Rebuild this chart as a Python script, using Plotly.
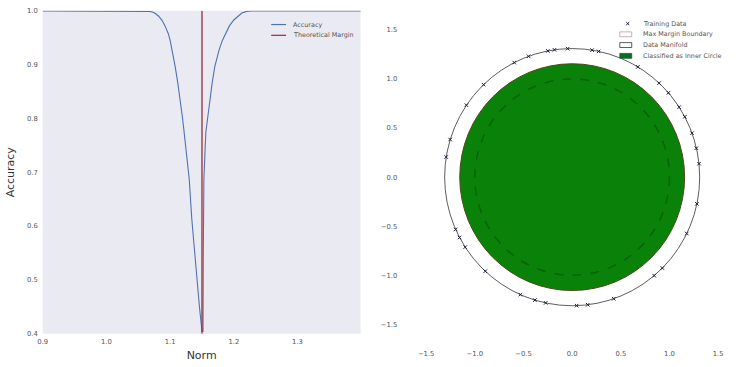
import plotly.graph_objects as go

# ---- Left panel data: accuracy vs norm ----
norm = [0.90, 1.00, 1.06, 1.067, 1.072, 1.077, 1.082, 1.0875, 1.092, 1.097, 1.100,
        1.103, 1.108, 1.112, 1.116, 1.119, 1.122, 1.126, 1.130, 1.134, 1.138, 1.142,
        1.146, 1.150,
        1.1516, 1.152, 1.153, 1.156, 1.159, 1.1625, 1.166, 1.170, 1.177, 1.182,
        1.1875, 1.193, 1.200, 1.206, 1.2125, 1.220, 1.228, 1.30, 1.40]
accuracy = [1.0, 1.0, 1.0, 0.999, 0.998, 0.995, 0.990, 0.982, 0.972, 0.958, 0.945,
            0.928, 0.896, 0.866, 0.835, 0.805, 0.774, 0.730, 0.687, 0.613, 0.555, 0.502,
            0.450, 0.404,
            0.404, 0.540, 0.687, 0.774, 0.805, 0.835, 0.866, 0.896, 0.928, 0.945,
            0.959, 0.972, 0.983, 0.990, 0.996, 0.999, 1.0, 1.0, 1.0]
theoretical_margin = 1.15
left_xticks = [0.9, 1.0, 1.1, 1.2, 1.3]
left_yticks = [0.4, 0.5, 0.6, 0.7, 0.8, 0.9, 1.0]
left_legend_labels = ["Accuracy", "Theoretical Margin"]

# ---- Right panel data: training points on the outer circle ----
train_x = [1.303, 1.276, 1.231, 1.157, 1.099, 0.989, 0.893, 0.675, 0.272, 0.205,
           -0.046, -0.182, -0.250, -0.448, -0.595, -0.910, -1.086, -1.253, -1.294,
           -1.197, -1.157, -1.099, -0.893, -0.533, -0.383, -0.272, 0.046, 0.160,
           0.427, 0.842, 0.926, 1.177, 1.281]
train_y = [0.137, 0.295, 0.448, 0.615, 0.713, 0.859, 0.958, 1.123, 1.281, 1.294,
           1.309, 1.297, 1.286, 1.231, 1.167, 0.942, 0.733, 0.383, 0.205,
           -0.533, -0.615, -0.713, -0.958, -1.197, -1.253, -1.281, -1.309, -1.300,
           -1.239, -1.003, -0.926, -0.574, -0.272]
inner_radius = 1.0
outer_radius = 1.31
classified_radius = 1.155
right_ticks = [-1.5, -1.0, -0.5, 0.0, 0.5, 1.0, 1.5]
right_legend_labels = ["Training Data", "Max Margin Boundary", "Data Manifold",
                       "Classified as Inner Circle"]

W, H = 740, 367
def px_x(p): return p / W
def px_y(p): return (H - p) / H

ACC_COLOR = "#4C72B0"
MARGIN_COLOR = "#9e2a35"
GREEN = "#0a820a"
LEG_GREEN = "#0b6b24"
TXT = "#555555"

fig = go.Figure()

fig.add_trace(go.Scatter(x=norm, y=accuracy, mode="lines", name=left_legend_labels[0],
                         line=dict(color=ACC_COLOR, width=1.1),
                         xaxis="x", yaxis="y", showlegend=False))
fig.add_trace(go.Scatter(x=[theoretical_margin, theoretical_margin],
                         y=[left_yticks[0], left_yticks[-1]], mode="lines",
                         name=left_legend_labels[1],
                         line=dict(color=MARGIN_COLOR, width=1.3),
                         xaxis="x", yaxis="y", showlegend=False))
fig.add_trace(go.Scatter(x=train_x, y=train_y, mode="markers", name=right_legend_labels[0],
                         marker=dict(symbol="x-thin", size=3.5, color="#1c1c3c",
                                     line=dict(width=1, color="#1c1c3c")),
                         xaxis="x2", yaxis="y2", showlegend=False))

shapes = [
    dict(type="rect", xref="x domain", yref="y domain", x0=0, x1=1, y0=0, y1=1,
         fillcolor="#EAEAF2", line=dict(width=0), layer="below"),
    dict(type="circle", xref="x2", yref="y2",
         x0=-outer_radius, x1=outer_radius, y0=-outer_radius, y1=outer_radius,
         line=dict(color="#333333", width=0.8), layer="below"),
    dict(type="circle", xref="x2", yref="y2",
         x0=-classified_radius, x1=classified_radius,
         y0=-classified_radius, y1=classified_radius,
         fillcolor=GREEN, line=dict(color="#4a4a18", width=1), layer="below"),
    dict(type="circle", xref="x2", yref="y2",
         x0=-inner_radius, x1=inner_radius, y0=-inner_radius, y1=inner_radius,
         line=dict(color="rgba(0,50,0,0.38)", width=1.5, dash="dash"), layer="below"),
]

annotations = []
LEGFONT = dict(family="DejaVu Sans", size=6.4, color=TXT)

# ---- Left legend (compact, matplotlib-like) ----
left_rows = [21, 32]
left_colors = [ACC_COLOR, MARGIN_COLOR]
for lab, yy, col in zip(left_legend_labels, left_rows, left_colors):
    shapes.append(dict(type="line", xref="paper", yref="paper",
                       x0=px_x(268), x1=px_x(283), y0=px_y(yy), y1=px_y(yy),
                       line=dict(color=col, width=1.2)))
    annotations.append(dict(text=lab, xref="paper", yref="paper", x=px_x(288), y=px_y(yy),
                            xanchor="left", yanchor="middle", showarrow=False, font=LEGFONT))

# ---- Right legend ----
right_rows = [20, 31, 42, 53]
mx, my = 627, right_rows[0]
shapes.append(dict(type="path", xref="paper", yref="paper",
                   path=f"M {px_x(mx-1.5)} {px_y(my-1.5)} L {px_x(mx+1.5)} {px_y(my+1.5)} "
                        f"M {px_x(mx-1.5)} {px_y(my+1.5)} L {px_x(mx+1.5)} {px_y(my-1.5)}",
                   line=dict(color="#1c1c3c", width=1)))
patch_styles = [("white", "#b89aa4"), ("white", "#333333"), (LEG_GREEN, LEG_GREEN)]
for (fillc, edgec), yy in zip(patch_styles, right_rows[1:]):
    shapes.append(dict(type="rect", xref="paper", yref="paper",
                       x0=px_x(619), x1=px_x(631), y0=px_y(yy + 2.5), y1=px_y(yy - 2.5),
                       fillcolor=fillc, line=dict(color=edgec, width=0.8)))
for lab, yy in zip(right_legend_labels, right_rows):
    annotations.append(dict(text=lab, xref="paper", yref="paper", x=px_x(640), y=px_y(yy),
                            xanchor="left", yanchor="middle", showarrow=False, font=LEGFONT))

tickfont = dict(family="DejaVu Sans", size=6.8, color=TXT)

fig.update_layout(
    width=W, height=H,
    margin=dict(l=0, r=0, t=0, b=0),
    paper_bgcolor="white", plot_bgcolor="white",
    font=dict(family="DejaVu Sans", color="#333333"),
    shapes=shapes, annotations=annotations,
    showlegend=False,
    xaxis=dict(domain=[px_x(38), px_x(358)], range=[0.9, 1.399],
               tickvals=left_xticks, tickformat=".1f", tickfont=tickfont,
               showgrid=False, zeroline=False, showline=False, ticks="",
               ticklabelstandoff=3,
               title=dict(text="Norm", font=dict(size=11, color="#333333"), standoff=5),
               anchor="y"),
    yaxis=dict(domain=[px_y(337), px_y(7)], range=[0.4, 1.0],
               tickvals=left_yticks, tickformat=".1f", tickfont=tickfont,
               showgrid=False, zeroline=False, showline=False, ticks="",
               ticklabelstandoff=4,
               title=dict(text="Accuracy", font=dict(size=11, color="#333333"), standoff=10),
               anchor="x"),
    xaxis2=dict(domain=[px_x(400), 1.0], range=[-1.745, 1.724],
                tickvals=right_ticks, tickformat=".1f", tickfont=tickfont,
                showgrid=False, zeroline=False, showline=False, ticks="",
                ticklabelstandoff=3,
                anchor="y2"),
    yaxis2=dict(domain=[px_y(349), px_y(6)], range=[-1.714, 1.704],
                tickvals=right_ticks, tickformat=".1f", tickfont=tickfont,
                showgrid=False, zeroline=False, showline=False, ticks="",
                ticklabelstandoff=4,
                anchor="x2"),
)

fig.write_html("out.html", config={"displayModeBar": False},
               post_script="document.body.style.margin='0';document.body.style.overflow='hidden';")
